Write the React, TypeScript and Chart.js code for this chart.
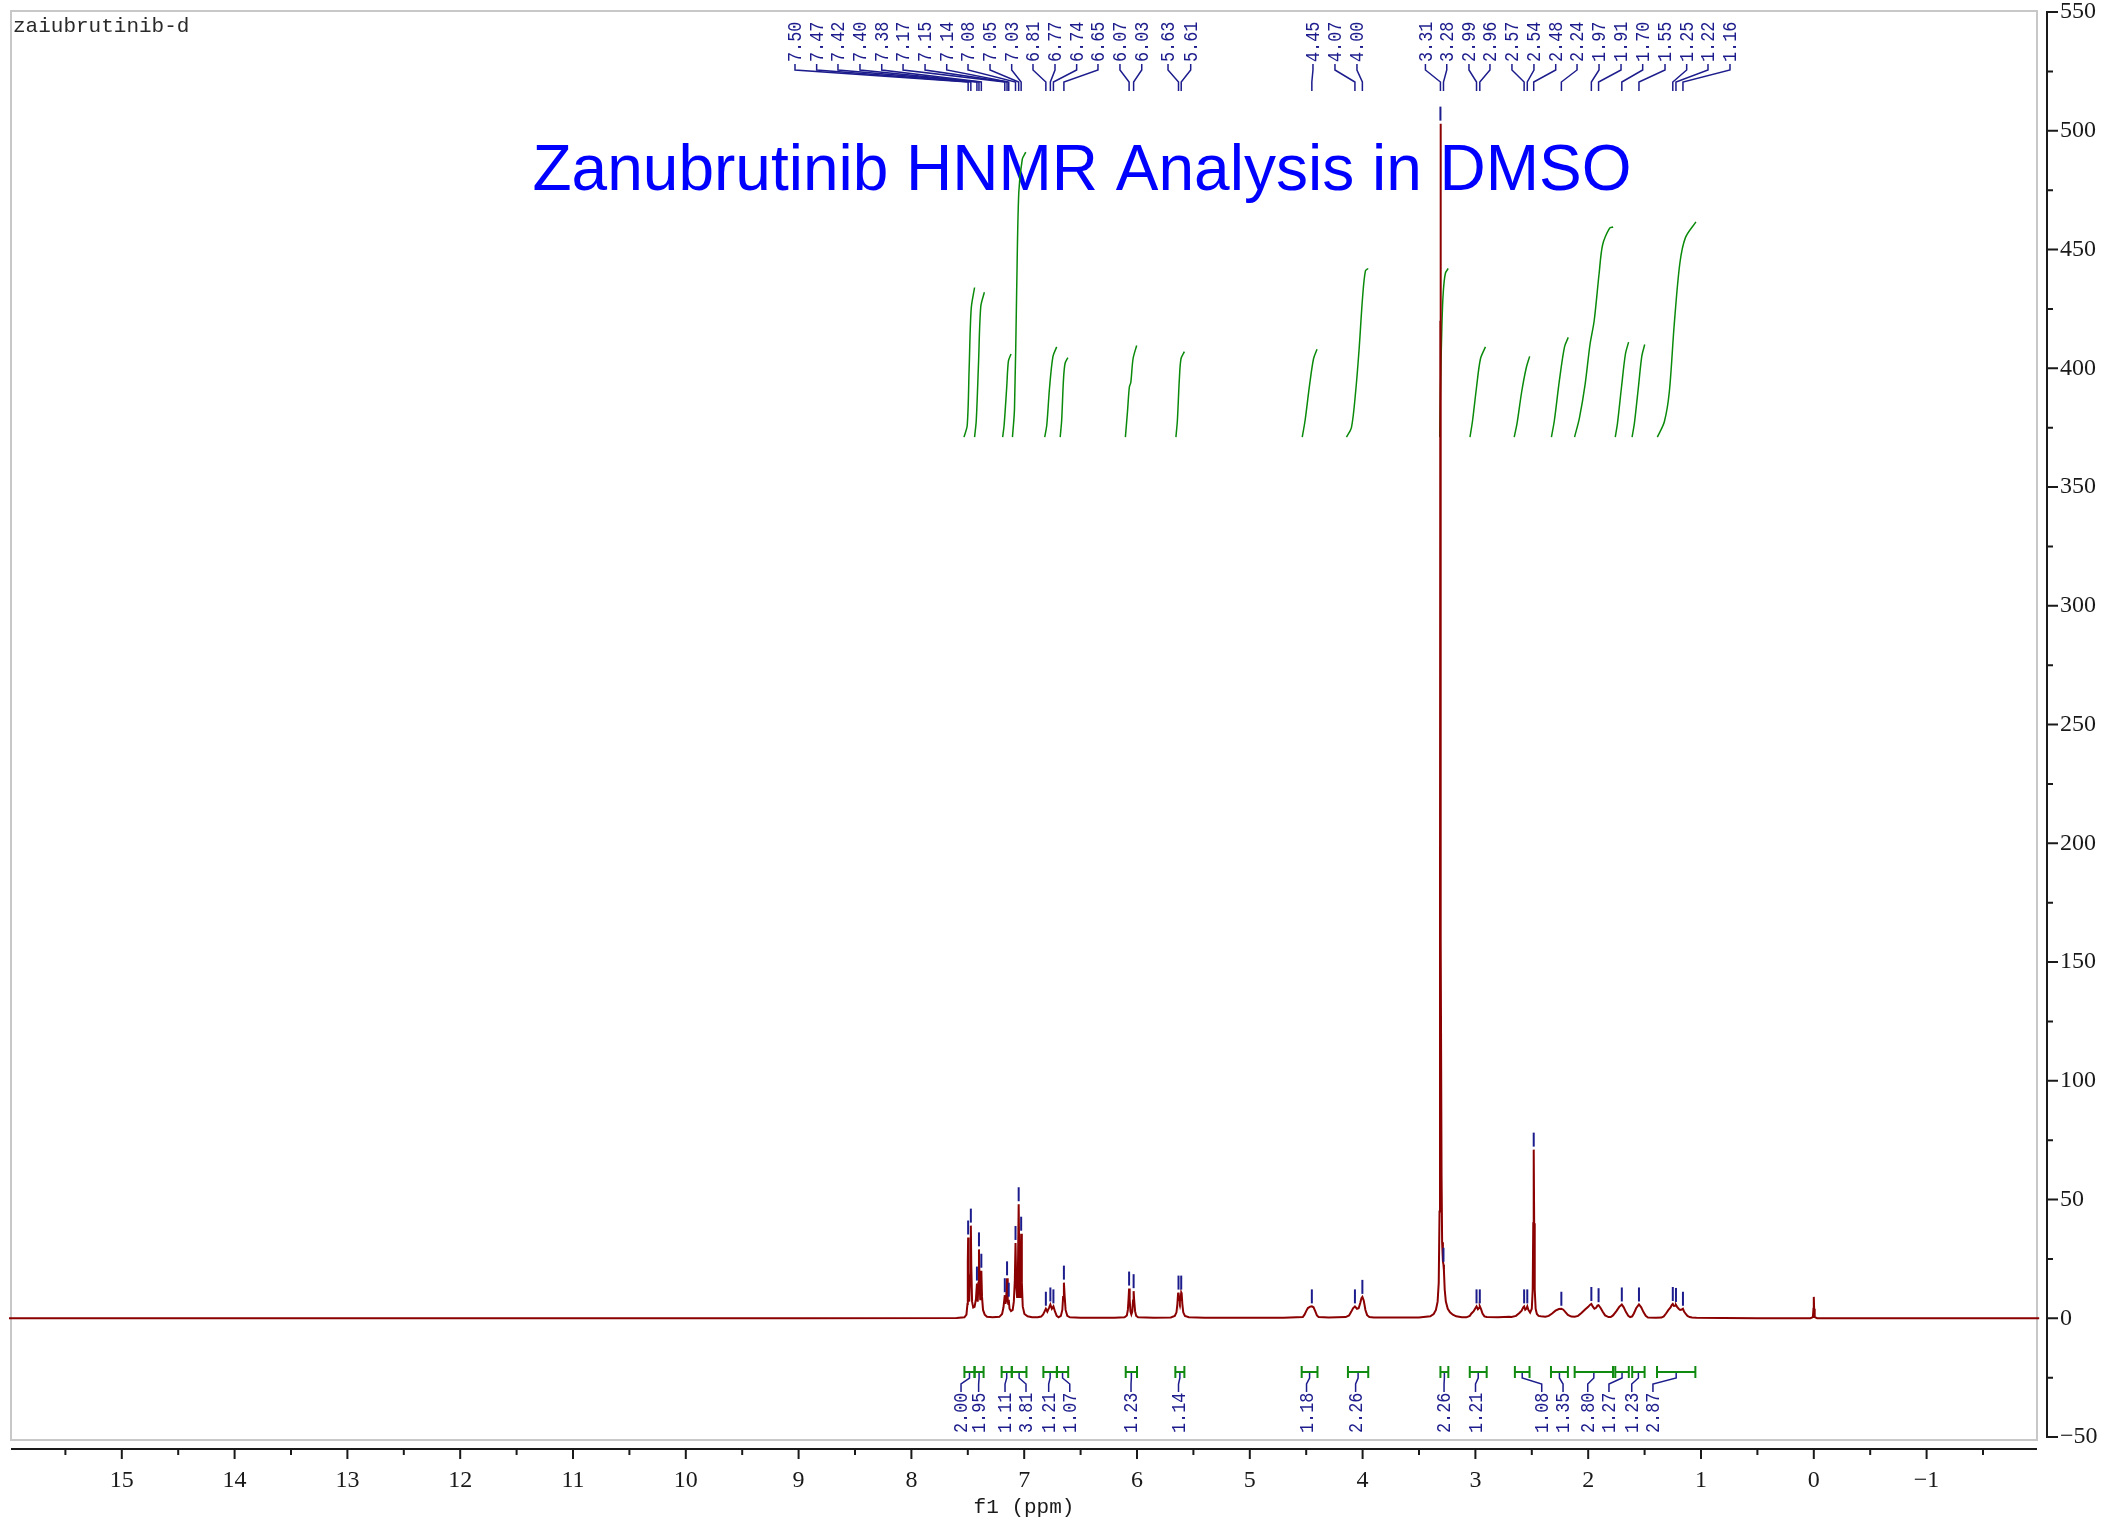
import React, { useEffect, useRef } from "react";
import { Chart, registerables } from "chart.js";

Chart.register(...registerables);

const W = 2125;
const H = 1525;

const TITLE = "Zanubrutinib HNMR Analysis in DMSO";
const SAMPLE_NAME = "zaiubrutinib-d";
const X_TITLE = "f1 (ppm)";

// Axis ticks
const X_MAJOR = [15, 14, 13, 12, 11, 10, 9, 8, 7, 6, 5, 4, 3, 2, 1, 0, -1];
const X_MINOR = [15.5, 14.5, 13.5, 12.5, 11.5, 10.5, 9.5, 8.5, 7.5, 6.5, 5.5, 4.5, 3.5, 2.5, 1.5, 0.5, -0.5, -1.5];
const Y_MAJOR = [-50, 0, 50, 100, 150, 200, 250, 300, 350, 400, 450, 500, 550];
const Y_MINOR = [-25, 25, 75, 125, 175, 225, 275, 325, 375, 425, 475, 525];

// Peak picking
const PEAK_LABELS = ["7.50", "7.47", "7.42", "7.40", "7.38", "7.17", "7.15", "7.14", "7.08", "7.05", "7.03", "6.81", "6.77", "6.74", "6.65", "6.07", "6.03", "5.63", "5.61", "4.45", "4.07", "4.00", "3.31", "3.28", "2.99", "2.96", "2.57", "2.54", "2.48", "2.24", "1.97", "1.91", "1.70", "1.55", "1.25", "1.22", "1.16"];
const PEAK_PPM = [7.497, 7.473, 7.419, 7.401, 7.380, 7.172, 7.152, 7.137, 7.077, 7.049, 7.027, 6.808, 6.768, 6.741, 6.648, 6.070, 6.030, 5.632, 5.608, 4.450, 4.068, 4.002, 3.310, 3.283, 2.990, 2.961, 2.568, 2.540, 2.483, 2.238, 1.972, 1.908, 1.702, 1.550, 1.250, 1.222, 1.160];
const PEAK_HEIGHTS = [34, 39, 14.6, 29, 20, 9.7, 16.8, 7.8, 31.7, 48, 35.6, 4, 5.8, 5, 15, 12.5, 11.4, 10.8, 10.8, 5, 5, 9, 503, 22.5, 5, 5, 5, 5, 71, 4, 6, 5.5, 5.8, 5.8, 6, 5.6, 4];
// label slots (layout, in ppm units of the axis)
const PEAK_LABEL_SLOTS = [9.032, 8.840, 8.651, 8.456, 8.263, 8.074, 7.879, 7.687, 7.498, 7.303, 7.111, 6.922, 6.727, 6.535, 6.346, 6.151, 5.958, 5.725, 5.524, 4.440, 4.245, 4.050, 3.443, 3.254, 3.057, 2.871, 2.676, 2.481, 2.288, 2.099, 1.904, 1.709, 1.517, 1.319, 1.127, 0.938, 0.743];

// Integrations
const INTEGRAL_VALUES = ["2.00", "1.95", "1.11", "3.81", "1.21", "1.07", "1.23", "1.14", "1.18", "2.26", "2.26", "1.21", "1.08", "1.35", "2.80", "1.27", "1.23", "2.87"];
const INTEGRAL_FROM = [7.53, 7.44, 7.20, 7.11, 6.83, 6.71, 6.10, 5.66, 4.54, 4.13, 3.31, 3.05, 2.65, 2.33, 2.12, 1.76, 1.61, 1.39];
const INTEGRAL_TO = [7.44, 7.36, 7.11, 6.98, 6.71, 6.61, 6.00, 5.58, 4.40, 3.95, 3.24, 2.90, 2.52, 2.18, 1.78, 1.64, 1.50, 1.05];
const INTEGRAL_LABEL_SLOTS = [7.560, 7.404, 7.170, 6.984, 6.783, 6.596, 6.053, 5.632, 4.497, 4.062, 3.278, 2.999, 2.412, 2.223, 2.004, 1.816, 1.614, 1.426];

// Spectrum trace [ppm, intensity]
const SPECTRUM: number[][] = [
  [16, 0], [12, 0], [9, 0], [7.60, 0.1], [7.53, 0.4], [7.512, 1.5], [7.503, 6], [7.500, 24], [7.497, 34], [7.493, 20], [7.487, 7], [7.480, 18], [7.473, 39], [7.469, 22], [7.462, 7], [7.452, 4.5], [7.440, 4.8], [7.428, 8], [7.419, 14.6], [7.412, 7], [7.406, 15], [7.401, 29], [7.396, 16], [7.390, 8], [7.385, 12], [7.380, 20], [7.374, 9], [7.365, 3.5], [7.35, 1.5], [7.33, 0.6], [7.28, 0.4], [7.22, 0.6], [7.196, 1.8], [7.184, 4.5], [7.172, 9.7], [7.166, 6], [7.159, 9], [7.152, 16.8], [7.146, 7], [7.141, 6], [7.137, 7.8], [7.130, 4], [7.117, 3], [7.102, 3.5], [7.092, 7], [7.083, 16], [7.077, 31.7], [7.070, 14], [7.063, 9], [7.055, 22], [7.049, 48], [7.043, 20], [7.037, 9], [7.032, 18], [7.027, 35.6], [7.021, 15], [7.013, 5], [6.998, 1.8], [6.97, 0.8], [6.93, 0.4],
  [6.88, 0.4], [6.85, 0.7], [6.832, 1.6], [6.818, 3], [6.808, 4], [6.795, 2.8], [6.780, 4.4], [6.768, 5.8], [6.755, 4], [6.741, 5], [6.728, 3], [6.712, 1], [6.695, 0.4], [6.675, 1], [6.662, 3.5], [6.655, 9], [6.648, 15], [6.641, 9], [6.633, 3.5], [6.618, 1], [6.595, 0.4], [6.50, 0.2],
  [6.20, 0.2], [6.11, 0.4], [6.09, 1.2], [6.081, 3.5], [6.075, 8], [6.070, 12.5], [6.065, 8], [6.058, 2.8], [6.050, 1.6], [6.042, 2.8], [6.035, 7.5], [6.030, 11.4], [6.025, 7.5], [6.017, 3], [6.007, 1], [5.99, 0.4], [5.85, 0.2], [5.70, 0.3], [5.665, 1], [5.650, 2.5], [5.642, 6], [5.636, 10.3], [5.632, 10.8], [5.627, 8.5], [5.620, 7], [5.613, 8.5], [5.608, 10.8], [5.604, 10.3], [5.598, 6], [5.590, 2.5], [5.575, 1], [5.54, 0.4], [5.40, 0.2],
  [4.70, 0.2], [4.53, 0.5], [4.515, 1.5], [4.50, 3], [4.485, 4.3], [4.465, 4.9], [4.450, 5], [4.435, 4.6], [4.42, 3], [4.405, 1.2], [4.39, 0.5], [4.30, 0.3], [4.15, 0.5], [4.12, 1.2], [4.10, 2.8], [4.085, 4.2], [4.068, 5], [4.050, 4], [4.035, 4.2], [4.020, 6.5], [4.010, 8.5], [4.002, 9], [3.990, 7.5], [3.975, 3.5], [3.960, 1.3], [3.940, 0.5], [3.90, 0.3],
  [3.50, 0.3], [3.40, 0.8], [3.37, 1.8], [3.35, 3.5], [3.335, 7], [3.325, 15], [3.318, 45], [3.314, 160], [3.311, 420], [3.310, 503], [3.308, 420], [3.305, 160], [3.300, 60], [3.295, 32], [3.288, 24], [3.283, 22.5], [3.279, 20], [3.272, 12], [3.262, 7], [3.245, 4], [3.225, 2.5], [3.20, 1.5], [3.17, 0.8], [3.12, 0.4],
  [3.08, 0.4], [3.05, 1], [3.035, 2], [3.015, 3], [3.000, 4.2], [2.990, 5], [2.978, 3.8], [2.968, 4.3], [2.961, 5], [2.950, 3.8], [2.937, 2], [2.92, 0.8], [2.90, 0.5], [2.80, 0.4], [2.70, 0.6],
  [2.68, 0.5], [2.64, 1], [2.61, 2.2], [2.59, 3.2], [2.577, 4.5], [2.568, 5], [2.558, 3.6], [2.548, 4], [2.540, 5], [2.530, 3.5], [2.515, 2.4], [2.500, 4], [2.492, 12], [2.487, 40], [2.483, 71], [2.479, 40], [2.474, 12], [2.466, 4], [2.455, 1.8], [2.44, 1], [2.42, 0.8],
  [2.38, 0.6], [2.35, 1], [2.32, 2], [2.29, 3.2], [2.26, 3.9], [2.238, 4], [2.22, 3.6], [2.20, 2.5], [2.18, 1.4], [2.15, 0.7], [2.12, 0.6], [2.09, 1.0], [2.06, 2.2], [2.03, 3.6], [2.00, 4.8], [1.985, 5.6], [1.972, 6], [1.960, 5], [1.945, 4], [1.930, 4.4], [1.918, 5.3], [1.908, 5.5], [1.890, 4.3], [1.870, 2.6], [1.850, 1.2], [1.82, 0.5], [1.80, 0.5], [1.78, 1.2], [1.75, 3], [1.725, 4.8], [1.702, 5.8], [1.685, 4.6], [1.665, 2.6], [1.645, 1], [1.628, 0.5], [1.61, 0.8], [1.595, 2], [1.575, 4.2], [1.550, 5.8], [1.530, 4.6], [1.51, 2.6], [1.49, 1], [1.47, 0.3], [1.40, 0.2], [1.35, 0.3], [1.33, 0.8], [1.31, 2], [1.29, 3.4], [1.27, 4.6], [1.258, 5.6], [1.250, 6], [1.240, 5.2], [1.230, 5.3], [1.222, 5.6], [1.212, 4.8], [1.198, 4], [1.185, 3.5], [1.170, 3.7], [1.160, 4], [1.150, 2.8], [1.135, 1.8], [1.12, 1], [1.10, 0.5], [1.08, 0.3], [1.04, 0.2], [0.80, 0.1], [0.5, 0], [0.03, 0], [0.008, 0.5], [0.003, 4], [0, 9], [-0.003, 4], [-0.008, 0.5], [-0.03, 0], [-2, 0],
];

// Integral curves [ppm, value]
const INT_1 = [[7.534, 371], [7.505, 376], [7.488, 400], [7.470, 425], [7.440, 434]];
const INT_2 = [[7.440, 371], [7.425, 378], [7.405, 402], [7.385, 426], [7.353, 432]];
const INT_3 = [[7.191, 371], [7.178, 376], [7.155, 392], [7.140, 403], [7.117, 406]];
const INT_4 = [[7.104, 371], [7.086, 383], [7.067, 432], [7.048, 474], [7.017, 488], [6.986, 491]];
const INT_5 = [[6.818, 371], [6.800, 376], [6.775, 392], [6.745, 405], [6.712, 409]];
const INT_6 = [[6.681, 371], [6.668, 378], [6.652, 395], [6.638, 402], [6.613, 404.5]];
const INT_7 = [[6.103, 371], [6.084, 382], [6.068, 392], [6.055, 394], [6.035, 404], [6.003, 409.6]];
const INT_8 = [[5.655, 371], [5.642, 378], [5.625, 395], [5.610, 404], [5.580, 407]];
const INT_9 = [[4.535, 371], [4.510, 378], [4.470, 393], [4.435, 404], [4.404, 408]];
const INT_10 = [[4.143, 371], [4.099, 375], [4.062, 390], [4.031, 408], [4.000, 430], [3.975, 441], [3.950, 442]];
const INT_11 = [[3.316, 371], [3.310, 390], [3.297, 418], [3.285, 432], [3.266, 440], [3.241, 442]];
const INT_12 = [[3.048, 371], [3.025, 378], [2.990, 392], [2.955, 404], [2.911, 409]];
const INT_13 = [[2.656, 371], [2.630, 377], [2.590, 390], [2.550, 400], [2.519, 405]];
const INT_14 = [[2.326, 371], [2.300, 378], [2.255, 395], [2.210, 409], [2.177, 413]];
const INT_15 = [[2.121, 371], [2.078, 379], [2.028, 393], [1.984, 410], [1.947, 420], [1.903, 440], [1.872, 452], [1.810, 459], [1.779, 459.5]];
const INT_16 = [[1.760, 371], [1.740, 377], [1.705, 392], [1.670, 406], [1.642, 411]];
const INT_17 = [[1.611, 371], [1.590, 377], [1.555, 392], [1.525, 405], [1.499, 410]];
const INT_18 = [[1.387, 371], [1.325, 377.5], [1.281, 390], [1.238, 418], [1.188, 444], [1.138, 455], [1.045, 461.6]];
const INTEGRAL_CURVES = [INT_1, INT_2, INT_3, INT_4, INT_5, INT_6, INT_7, INT_8, INT_9, INT_10, INT_11, INT_12, INT_13, INT_14, INT_15, INT_16, INT_17, INT_18];

const NAVY = "#1c1c8c";
const GREEN = "#108a10";
const AXIS = "#1a1a1a";

function fmt(n: number): string {
  return n < 0 ? "\u2212" + Math.abs(n) : String(n);
}

function rotText(ctx: CanvasRenderingContext2D, text: string, x: number, yBottom: number) {
  ctx.save();
  ctx.translate(x, yBottom);
  ctx.rotate(-Math.PI / 2);
  ctx.scale(0.84, 1);
  ctx.textAlign = "left";
  ctx.textBaseline = "middle";
  ctx.fillText(text, 0, 1);
  ctx.restore();
}

const decoPlugin = {
  id: "nmrDeco",
  beforeDatasetsDraw(chart: any) {
    const ctx: CanvasRenderingContext2D = chart.ctx;
    ctx.save();
    // frame
    ctx.strokeStyle = "#c8c8c8";
    ctx.lineWidth = 2;
    ctx.strokeRect(11, 11, 2026, 1429);
    // sample name
    ctx.fillStyle = "#2a2a2a";
    ctx.font = '21px "Liberation Mono"';
    ctx.textAlign = "left";
    ctx.textBaseline = "alphabetic";
    ctx.fillText(SAMPLE_NAME, 13, 32);
    // title
    ctx.fillStyle = "#0000ff";
    ctx.font = '64px "Liberation Sans"';
    ctx.textAlign = "center";
    ctx.fillText(TITLE, 1082, 190);
    ctx.restore();
  },
  afterDatasetsDraw(chart: any) {
    const ctx: CanvasRenderingContext2D = chart.ctx;
    const xs = chart.scales.x;
    const ys = chart.scales.y;
    ctx.save();

    // peak markers + labels
    ctx.lineCap = "butt";
    for (let i = 0; i < PEAK_PPM.length; i++) {
      const px = xs.getPixelForValue(PEAK_PPM[i]);
      const py = ys.getPixelForValue(PEAK_HEIGHTS[i]);
      ctx.strokeStyle = NAVY;
      ctx.lineWidth = 2;
      ctx.beginPath();
      ctx.moveTo(px, py - 3);
      ctx.lineTo(px, py - 17);
      ctx.stroke();

      const lx = xs.getPixelForValue(PEAK_LABEL_SLOTS[i]);
      ctx.lineWidth = 1.5;
      ctx.beginPath();
      ctx.moveTo(lx, 64);
      ctx.lineTo(lx, 70);
      ctx.lineTo(px, 82);
      ctx.lineTo(px, 91);
      ctx.stroke();
      ctx.fillStyle = NAVY;
      ctx.font = '20px "Liberation Mono"';
      rotText(ctx, PEAK_LABELS[i], lx, 62);
    }

    // integral brackets + labels
    const by = 1372;
    for (let i = 0; i < INTEGRAL_VALUES.length; i++) {
      const x1 = xs.getPixelForValue(INTEGRAL_FROM[i]);
      const x2 = xs.getPixelForValue(INTEGRAL_TO[i]);
      ctx.strokeStyle = GREEN;
      ctx.lineWidth = 2;
      ctx.beginPath();
      ctx.moveTo(x1, by);
      ctx.lineTo(x2, by);
      ctx.moveTo(x1, by - 6);
      ctx.lineTo(x1, by + 6);
      ctx.moveTo(x2, by - 6);
      ctx.lineTo(x2, by + 6);
      ctx.stroke();
      const bc = (x1 + x2) / 2;
      const lx = xs.getPixelForValue(INTEGRAL_LABEL_SLOTS[i]);
      ctx.strokeStyle = NAVY;
      ctx.lineWidth = 1.5;
      ctx.beginPath();
      ctx.moveTo(bc, by + 1);
      ctx.lineTo(bc, 1378);
      ctx.lineTo(lx, 1384);
      ctx.lineTo(lx, 1392);
      ctx.stroke();
      ctx.fillStyle = NAVY;
      ctx.font = '20px "Liberation Mono"';
      rotText(ctx, INTEGRAL_VALUES[i], lx, 1433);
    }

    // x axis
    const axY = 1449;
    ctx.strokeStyle = AXIS;
    ctx.lineWidth = 2;
    ctx.beginPath();
    ctx.moveTo(11, axY);
    ctx.lineTo(2037, axY);
    for (const t of X_MAJOR) {
      const x = xs.getPixelForValue(t);
      ctx.moveTo(x, axY);
      ctx.lineTo(x, axY + 10);
    }
    for (const t of X_MINOR) {
      const x = xs.getPixelForValue(t);
      ctx.moveTo(x, axY);
      ctx.lineTo(x, axY + 6);
    }
    ctx.stroke();
    ctx.fillStyle = AXIS;
    ctx.font = '24px "Liberation Serif"';
    ctx.textAlign = "center";
    ctx.textBaseline = "middle";
    for (const t of X_MAJOR) {
      ctx.fillText(fmt(t), xs.getPixelForValue(t), 1481);
    }
    ctx.font = '21px "Liberation Mono"';
    ctx.fillText(X_TITLE, 1024, 1507);

    // y axis
    const axX = 2047;
    ctx.beginPath();
    ctx.moveTo(axX, ys.getPixelForValue(550) - 1);
    ctx.lineTo(axX, ys.getPixelForValue(-50) + 1);
    for (const t of Y_MAJOR) {
      const y = ys.getPixelForValue(t);
      ctx.moveTo(axX, y);
      ctx.lineTo(axX + 11, y);
    }
    for (const t of Y_MINOR) {
      const y = ys.getPixelForValue(t);
      ctx.moveTo(axX, y);
      ctx.lineTo(axX + 6, y);
    }
    ctx.stroke();
    ctx.font = '24px "Liberation Serif"';
    ctx.textAlign = "left";
    ctx.textBaseline = "middle";
    for (const t of Y_MAJOR) {
      ctx.fillText(fmt(t), 2060, ys.getPixelForValue(t));
    }
    ctx.restore();
  },
};

export default function App() {
  const ref = useRef<HTMLCanvasElement | null>(null);
  useEffect(() => {
    document.body.style.margin = "0";
    document.body.style.overflow = "hidden";
    const canvas = ref.current;
    if (!canvas) return;
    const datasets: any[] = [
      {
        data: SPECTRUM.map(([x, y]) => ({ x, y })),
        borderColor: "#8b0000",
        borderWidth: 2,
        pointRadius: 0,
        tension: 0,
        fill: false,
      },
      ...INTEGRAL_CURVES.map((c) => ({
        data: c.map(([x, y]) => ({ x, y })),
        borderColor: "#0a8a0a",
        borderWidth: 1.5,
        pointRadius: 0,
        tension: 0.3,
        fill: false,
      })),
    ];
    const chart = new Chart(canvas, {
      type: "line",
      data: { datasets },
      options: {
        responsive: false,
        animation: false,
        devicePixelRatio: 1,
        parsing: false,
        layout: { padding: { left: 9, right: 85.6, top: 12, bottom: 88 } },
        plugins: { legend: { display: false }, tooltip: { enabled: false } },
        events: [],
        scales: {
          x: { type: "linear", min: -2, max: 16, reverse: true, display: false },
          y: { type: "linear", min: -50, max: 550, display: false },
        },
      } as any,
      plugins: [decoPlugin],
    });
    return () => chart.destroy();
  }, []);
  return (
    <div style={{ width: W, height: H, background: "#fff" }}>
      <canvas ref={ref} width={W} height={H} style={{ display: "block", width: W, height: H }} />
    </div>
  );
}
